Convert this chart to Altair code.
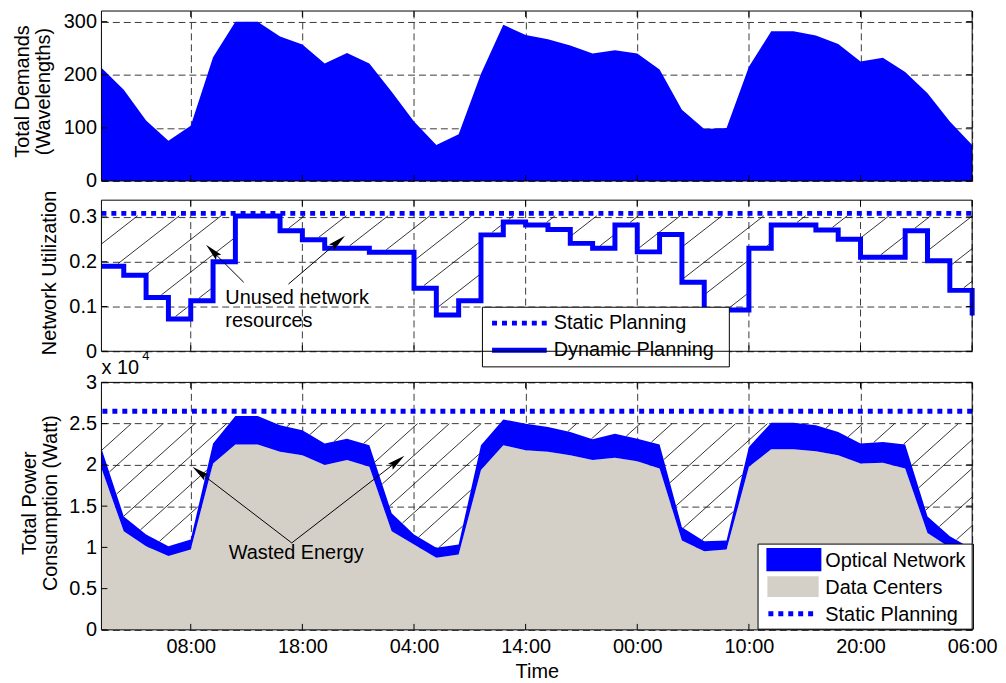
import math
import altair as alt
import numpy as np
import pandas as pd

# ---------------- data ----------------
HOURS = [0, 2, 4, 6, 8, 10, 12, 14, 16, 18, 20, 22, 24, 26, 28, 30, 32, 34, 36, 38,
         40, 42, 44, 46, 48, 50, 52, 54, 56, 58, 60, 62, 64, 66, 68, 70, 72, 74, 76, 78]
DEMAND = [213, 172, 114, 76, 104, 233, 300, 300, 272, 257, 221, 241, 221, 168, 112, 68, 88, 202, 294, 275,
          267, 255, 240, 246, 240, 210, 134, 98, 100, 215, 282, 282, 274, 258, 225, 232, 205, 165, 112, 68]
UTIL = [0.19, 0.17, 0.12, 0.072, 0.113, 0.20, 0.302, 0.302, 0.269, 0.249, 0.23, 0.23, 0.221, 0.221, 0.141,
        0.081, 0.113, 0.26, 0.289, 0.282, 0.272, 0.241, 0.23, 0.282, 0.222, 0.261, 0.154, 0.092, 0.092, 0.23,
        0.282, 0.282, 0.271, 0.25, 0.21, 0.21, 0.269, 0.202, 0.136, 0.08]
STATIC_UTIL = 0.308
DATA_CENTERS = [19600, 11950, 10150, 8940, 9750, 20170, 22460, 22460, 21580, 21180, 19975, 20580, 19770, 11950,
                10350, 8740, 9150, 19370, 22380, 21780, 21580, 21180, 20580, 20855, 20455, 19570, 10830, 9540,
                9750, 19770, 21900, 21900, 21660, 21180, 20170, 20250, 19570, 11745, 10000, 8600]
TOTAL_POWER = [21975, 13755, 11550, 10145, 10950, 22580, 25910, 25910, 24790, 24190, 22580, 23180, 22380, 14150,
               11550, 9940, 10350, 22380, 25510, 24980, 24585, 23985, 23100, 23780, 23180, 22460, 12430, 10745,
               10830, 22180, 25100, 25100, 24790, 23985, 22580, 22780, 22460, 13755, 11350, 9800]
STATIC_POWER = 26500
TICK_HOURS = [8, 18, 28, 38, 48, 58, 68, 78]
TICK_LABELS = ["08:00", "18:00", "04:00", "14:00", "00:00", "10:00", "20:00", "06:00"]
TOP_TICKS = [0, 100, 200, 300]
MID_TICKS = [0, 0.1, 0.2, 0.3]
BOT_TICKS = [0, 5000, 10000, 15000, 20000, 25000, 30000]

# annotations (data coordinates)
UNUSED_TEXT = ["Unused network", "resources"]
UNUSED_TEXT_H = [11.1, 11.1]
UNUSED_TEXT_V = [0.118, 0.067]
UNUSED_TAIL_H = [12.75, 16.75]
UNUSED_TAIL_V = [0.154, 0.150]
UNUSED_HEAD_H = [9.37, 21.82]
UNUSED_HEAD_V = [0.238, 0.258]
WASTED_TEXT = ["Wasted Energy"]
WASTED_TEXT_H = [11.4]
WASTED_TEXT_V = [9340]
WASTED_TAIL_H = [17.05, 17.05]
WASTED_TAIL_V = [10540, 10540]
WASTED_HEAD_H = [8.15, 27.14]
WASTED_HEAD_V = [19770, 21100]

# ---------------- layout / style ----------------
W = 876
H_TOP, H_MID, H_BOT = 171, 152, 249
MID_EXTRA = 11.4           # blank strip under the middle plot (wider gap above the bottom plot)
GAP = 19.3
X_MAX = 78
TOP_MAX, MID_MAX, BOT_MAX = 320, 0.3375, 30000
PXH = W / X_MAX
PPU_MID = H_MID / MID_MAX
PPU_BOT = H_BOT / BOT_MAX
FONT = "Liberation Sans"
FS = 20
BLUE = "#0000ff"
GRAY = "#d4d0c8"
GRID = "#3a3a3a"
GRID_DASH = [7, 4]
TICK_LEN = 6
ARROW_PATH = "M0,-1L-0.42,1L0,0.7L0.42,1Z"
ARROW_SIZE = 320
ARROW_HALF = math.sqrt(ARROW_SIZE) / 2

df = pd.DataFrame({"h": HOURS, "d": DEMAND, "u": UTIL, "dc": DATA_CENTERS, "tot": TOTAL_POWER})
xticks_df = pd.DataFrame({"t": TICK_HOURS})

label_expr = "[" + ",".join("'%s'" % s for s in TICK_LABELS) + "][indexof([" + \
    ",".join(str(v) for v in TICK_HOURS) + "], datum.value)]"

XSCALE = alt.Scale(domain=[0, X_MAX], nice=False, zero=False)
XAXIS_HIDDEN = alt.Axis(values=TICK_HOURS, labels=False, grid=True, title=None)
XAXIS_BOTTOM = alt.Axis(values=TICK_HOURS, labelExpr=label_expr, grid=True, title="Time",
                        labelFlush=False, labelOverlap=False, labelPadding=7,
                        titleY=42, titleBaseline="middle")

TOP_YS = alt.Scale(domain=[0, TOP_MAX], nice=False)
TOP_YA = alt.Axis(values=TOP_TICKS, grid=True, title=["Total Demands", "(Wavelengths)"],
                  titleX=-73.4, titleY=80.5, titleAngle=270, titleAlign="center",
                  titleBaseline="alphabetic", titleLineHeight=21.5)
MID_YS = alt.Scale(domain=[0, MID_MAX], nice=False, range=[H_MID, 0])
MID_YA = alt.Axis(values=MID_TICKS, grid=True, title="Network Utilization",
                  labelExpr="datum.value == 0 ? '0' : format(datum.value, '.1f')",
                  titleX=-46.7, titleY=72.7, titleAngle=270, titleAlign="center",
                  titleBaseline="alphabetic")
BOT_YS = alt.Scale(domain=[0, BOT_MAX], nice=False)
BOT_YA = alt.Axis(values=BOT_TICKS, grid=True,
                  title=["Total Power", "Consumption (Watt)"],
                  labelExpr="format(datum.value / 10000, '~g')",
                  titleX=-66.7, titleY=121, titleAngle=270, titleAlign="center",
                  titleBaseline="alphabetic", titleLineHeight=21.5)


def X(field, axis=XAXIS_HIDDEN):
    return alt.X(field, type="quantitative", scale=XSCALE, axis=axis)


def Y(field, ys, ya):
    return alt.Y(field, type="quantitative", scale=ys, axis=ya)


def hatch_segments(lower_px, upper_px, spacing, slope, anchor):
    xs = np.arange(0.0, W + 0.001, 0.25)
    low = lower_px(xs)
    reach = upper_px / slope
    first = anchor - spacing * math.ceil(anchor / spacing)
    tops = np.arange(first, W + reach + spacing, spacing)
    segs = []
    for xt in tops:
        ys = upper_px - slope * (xt - xs)
        ok = (ys >= low) & (ys <= upper_px) & (ys >= 0)
        idx = np.flatnonzero(ok)
        if idx.size == 0:
            continue
        br = np.flatnonzero(np.diff(idx) > 1)
        starts = np.r_[idx[0], idx[br + 1]]
        ends = np.r_[idx[br], idx[-1]]
        for s, e in zip(starts, ends):
            if xs[e] - xs[s] < 3:
                continue
            segs.append((xs[s], ys[s], xs[e], ys[e]))
    return segs


def arrows(tail_h, tail_v, head_h, head_v, ppu, height):
    rows = []
    for th, tv, hh, hv in zip(tail_h, tail_v, head_h, head_v):
        xt, yt = th * PXH, height - tv * ppu
        xh, yh = hh * PXH, height - hv * ppu
        dx, dy = xh - xt, yh - yt
        ln = math.hypot(dx, dy)
        ux, uy = dx / ln, dy / ln
        cx, cy = xh - ARROW_HALF * ux, yh - ARROW_HALF * uy
        ang = math.degrees(math.atan2(dx, -dy)) % 360
        rows.append({"h": th, "v": tv, "h2": cx / PXH, "v2": (height - cy) / ppu, "ang": ang})
    return pd.DataFrame(rows)


def arrow_layers(adf, ys, ya, xaxis=XAXIS_HIDDEN):
    line = alt.Chart(adf).mark_rule(color="black", strokeWidth=1).encode(
        x=X("h", xaxis), x2="h2", y=Y("v", ys, ya), y2="v2")
    head = alt.Chart(adf).mark_point(shape=ARROW_PATH, filled=True, color="black", size=ARROW_SIZE,
                                     opacity=1, strokeWidth=0).encode(
        x=X("h2", xaxis), y=Y("v2", ys, ya), angle=alt.Angle("ang:Q", scale=None))
    return [line, head]


def inward_ticks(yvals, ys, ya, height, xaxis):
    """MATLAB-style inward tick marks on all four sides."""
    ydf = pd.DataFrame({"y": yvals})
    return [
        alt.Chart(ydf).mark_rule(color="black", strokeWidth=1).encode(
            y=Y("y", ys, ya), x=alt.value(0), x2=alt.value(TICK_LEN)),
        alt.Chart(ydf).mark_rule(color="black", strokeWidth=1).encode(
            y=Y("y", ys, ya), x=alt.value(W - TICK_LEN), x2=alt.value(W)),
        alt.Chart(xticks_df).mark_rule(color="black", strokeWidth=1).encode(
            x=X("t", xaxis), y=alt.value(0), y2=alt.value(TICK_LEN)),
        alt.Chart(xticks_df).mark_rule(color="black", strokeWidth=1).encode(
            x=X("t", xaxis), y=alt.value(height - TICK_LEN), y2=alt.value(height)),
    ]


def px_text(s, x, y, size=FS, align="left"):
    return alt.Chart(pd.DataFrame({"t": [s]})).mark_text(
        font=FONT, fontSize=size, color="black", align=align, baseline="middle").encode(
        x=alt.value(x), y=alt.value(y), text="t:N")


def px_rect(x, x2, y, y2, fill, stroke=None):
    kw = dict(fill=fill, opacity=1)
    if stroke:
        kw.update(stroke=stroke, strokeWidth=1)
    return alt.Chart(pd.DataFrame({"a": [0]})).mark_rect(**kw).encode(
        x=alt.value(x), x2=alt.value(x2), y=alt.value(y), y2=alt.value(y2))


def px_rule(x, x2, y, dash=None, width=5, color=BLUE):
    kw = dict(color=color, strokeWidth=width)
    if dash:
        kw["strokeDash"] = dash
    return alt.Chart(pd.DataFrame({"a": [0]})).mark_rule(**kw).encode(
        x=alt.value(x), x2=alt.value(x2), y=alt.value(y))


def frame(h):
    return alt.Chart(pd.DataFrame({"a": [0]})).mark_rect(filled=False, stroke="black", strokeWidth=1).encode(
        x=alt.value(0), x2=alt.value(W), y=alt.value(0), y2=alt.value(h))


# ---------------- top panel ----------------
top_layers = [
    alt.Chart(df).mark_area(color=BLUE, opacity=1).encode(x=X("h"), y=Y("d", TOP_YS, TOP_YA)),
]
top_layers += inward_ticks(TOP_TICKS, TOP_YS, TOP_YA, H_TOP, XAXIS_HIDDEN)
top_layers.append(frame(H_TOP))
top = alt.layer(*top_layers).properties(width=W, height=H_TOP)

# ---------------- middle panel ----------------
util_arr = np.array(UTIL)
mid_segs = hatch_segments(
    lambda xs: util_arr[np.minimum((xs / PXH // 2).astype(int), len(UTIL) - 1)] * PPU_MID + 2.5,
    0.303 * PPU_MID, 42, 0.78, 36.6)
mid_hatch = pd.DataFrame([{"h": a / PXH, "v": b / PPU_MID, "h2": c / PXH, "v2": d / PPU_MID}
                          for a, b, c, d in mid_segs])
mid_layers = [
    # vertical grid lines drawn only over the plot area
    alt.Chart(xticks_df).mark_rule(color=GRID, strokeWidth=1, strokeDash=GRID_DASH).encode(
        x=X("t", None), y=alt.value(0), y2=alt.value(H_MID)),
    alt.Chart(mid_hatch).mark_rule(color="black", strokeWidth=0.8).encode(
        x=X("h", None), x2="h2", y=Y("v", MID_YS, MID_YA), y2="v2"),
    alt.Chart(pd.DataFrame({"s": [STATIC_UTIL]})).mark_rule(color=BLUE, strokeWidth=5, strokeDash=[5, 5]).encode(
        y=Y("s", MID_YS, MID_YA), x=alt.value(0), x2=alt.value(W)),
    alt.Chart(df).mark_line(color=BLUE, strokeWidth=5, interpolate="step-after").encode(
        x=X("h", None), y=Y("u", MID_YS, MID_YA)),
]
mid_layers += arrow_layers(arrows(UNUSED_TAIL_H, UNUSED_TAIL_V, UNUSED_HEAD_H, UNUSED_HEAD_V, PPU_MID, H_MID),
                           MID_YS, MID_YA, None)
mid_layers.append(
    alt.Chart(pd.DataFrame({"t": UNUSED_TEXT, "h": UNUSED_TEXT_H, "v": UNUSED_TEXT_V})).mark_text(
        font=FONT, fontSize=FS, color="black", align="left", baseline="middle").encode(
        x=X("h", None), y=Y("v", MID_YS, MID_YA), text="t:N"))
mid_layers += inward_ticks(MID_TICKS, MID_YS, MID_YA, H_MID, None)
mid_layers += [
    px_rect(383.3, 631.7, 107.7, 167.7, "white", "black"),
    px_rule(393, 448, 123.7, dash=[5, 5]),
    px_rule(393, 448, 151),
    px_text("Static Planning", 455, 123.7),
    px_text("Dynamic Planning", 455, 151),
    frame(H_MID),
]
mid = alt.layer(*mid_layers).properties(width=W, height=H_MID + MID_EXTRA)

# ---------------- bottom panel ----------------
bot_segs = hatch_segments(
    lambda xs: np.interp(xs / PXH, HOURS, TOTAL_POWER) * PPU_BOT,
    25000 * PPU_BOT, 32, 0.9, 30)
bot_hatch = pd.DataFrame([{"h": a / PXH, "v": b / PPU_BOT, "h2": c / PXH, "v2": d / PPU_BOT}
                          for a, b, c, d in bot_segs])
XB = XAXIS_BOTTOM
bot_layers = [
    alt.Chart(df).mark_area(color=GRAY, opacity=1).encode(x=X("h", XB), y=Y("dc", BOT_YS, BOT_YA)),
    alt.Chart(df).mark_area(color=BLUE, opacity=1).encode(x=X("h", XB), y=Y("tot", BOT_YS, BOT_YA), y2="dc"),
    alt.Chart(bot_hatch).mark_rule(color="black", strokeWidth=0.8).encode(
        x=X("h", XB), x2="h2", y=Y("v", BOT_YS, BOT_YA), y2="v2"),
    alt.Chart(pd.DataFrame({"s": [STATIC_POWER]})).mark_rule(color=BLUE, strokeWidth=5, strokeDash=[5, 5]).encode(
        y=Y("s", BOT_YS, BOT_YA)),
]
bot_layers += arrow_layers(arrows(WASTED_TAIL_H, WASTED_TAIL_V, WASTED_HEAD_H, WASTED_HEAD_V, PPU_BOT, H_BOT),
                           BOT_YS, BOT_YA, XB)
bot_layers.append(
    alt.Chart(pd.DataFrame({"t": WASTED_TEXT, "h": WASTED_TEXT_H, "v": WASTED_TEXT_V})).mark_text(
        font=FONT, fontSize=FS, color="black", align="left", baseline="middle").encode(
        x=X("h", XB), y=Y("v", BOT_YS, BOT_YA), text="t:N"))
bot_layers += inward_ticks(BOT_TICKS, BOT_YS, BOT_YA, H_BOT, XB)
bot_layers += [
    px_rect(660.6, 877.3, 162.7, 248.3, "white", "black"),
    px_rect(669, 724.3, 166.7, 190, BLUE),
    px_rect(670, 721.6, 195, 216, GRAY),
    px_rule(671, 717.6, 232.7, dash=[5, 5]),
    px_text("Optical Network", 728.3, 180),
    px_text("Data Centers", 728.3, 207.3),
    px_text("Static Planning", 728.3, 234),
    px_text("x 10", 0, -14),
    px_text("4", 41, -27, size=13),
    frame(H_BOT),
]
bot = alt.layer(*bot_layers).properties(width=W, height=H_BOT)

chart = alt.vconcat(top, mid, bot, spacing=GAP, bounds="flush").properties(
    padding={"left": 4, "top": 0, "right": 0, "bottom": 0}
).configure_axis(
    labelFont=FONT, labelFontSize=FS, titleFont=FONT, titleFontSize=FS, titleFontWeight="normal",
    labelColor="black", titleColor="black", domain=False, ticks=False, tickSize=0, labelPadding=5,
    gridColor=GRID, gridDash=GRID_DASH, gridWidth=1, gridOpacity=1,
).configure_view(stroke=None)

chart.save("out.html", embed_options={"renderer": "svg", "actions": False})
